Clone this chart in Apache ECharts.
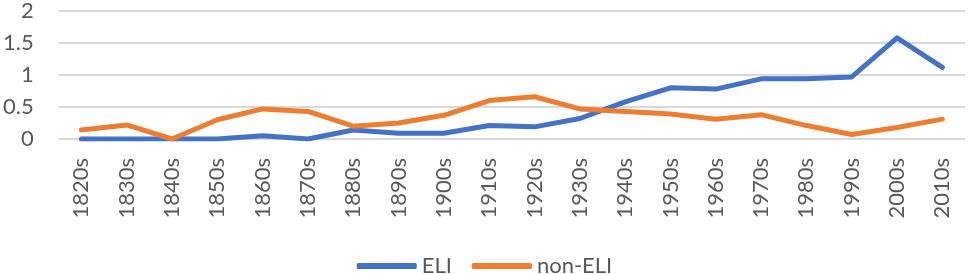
<!DOCTYPE html>
<html>
<head>
<meta charset="utf-8">
<script src="https://cdn.jsdelivr.net/npm/echarts@6/dist/echarts.min.js"></script>
<style>
html, body { margin: 0; padding: 0; background: #fff; }
#chart { width: 969px; height: 274px; }
</style>
</head>
<body>
<div id="chart"></div>
<script>
var decades = ['1820s', '1830s', '1840s', '1850s', '1860s', '1870s', '1880s', '1890s', '1900s', '1910s',
    '1920s', '1930s', '1940s', '1950s', '1960s', '1970s', '1980s', '1990s', '2000s', '2010s'];
var eli = [0, 0, 0, 0, 0.05, 0, 0.14, 0.09, 0.09, 0.21, 0.19, 0.32, 0.58, 0.8, 0.78, 0.94, 0.94, 0.97, 1.58, 1.12];
var nonEli = [0.14, 0.22, 0, 0.3, 0.47, 0.43, 0.2, 0.25, 0.37, 0.6, 0.66, 0.47, 0.43, 0.39, 0.31, 0.38, 0.21, 0.07, 0.18, 0.31];

var chart = echarts.init(document.getElementById('chart'));
var font = 'Lato, "Open Sans", sans-serif';

var option = {
    animation: false,
    textStyle: { fontFamily: font },
    grid: { left: 58, right: 4, top: 9, bottom: 135, containLabel: false },
    legend: {
        top: 250,
        left: 'center',
        itemWidth: 60,
        itemHeight: 6,
        itemGap: 20,
        icon: 'roundRect',
        textStyle: { fontSize: 22, color: '#595959', fontFamily: font },
        data: ['ELI', 'non-ELI']
    },
    xAxis: {
        type: 'category',
        data: decades,
        boundaryGap: true,
        axisLine: { show: false },
        axisTick: { show: false },
        axisLabel: { rotate: 90, margin: 19, fontSize: 22, color: '#595959', interval: 0 }
    },
    yAxis: {
        type: 'value',
        min: 0,
        max: 2,
        interval: 0.5,
        axisLine: { show: false },
        axisTick: { show: false },
        splitLine: { lineStyle: { color: '#d9d9d9', width: 2 } },
        axisLabel: { fontSize: 22, color: '#595959', margin: 25 }
    },
    series: [{
        name: 'ELI',
        type: 'line',
        data: eli,
        symbol: 'none',
        itemStyle: { color: '#4472c4' },
        lineStyle: { color: '#4472c4', width: 5, cap: 'round', join: 'round' }
    }, {
        name: 'non-ELI',
        type: 'line',
        data: nonEli,
        symbol: 'none',
        itemStyle: { color: '#ed7d31' },
        lineStyle: { color: '#ed7d31', width: 5, cap: 'round', join: 'round' }
    }]
};
chart.setOption(option);
</script>
</body>
</html>
